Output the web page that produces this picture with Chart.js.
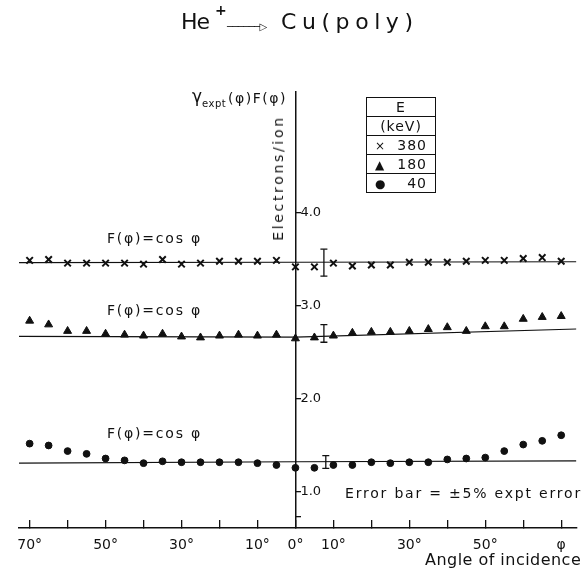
<!DOCTYPE html>
<html>
<head>
<meta charset="utf-8">
<script src="https://cdn.jsdelivr.net/npm/chart.js@4.4.1/dist/chart.umd.min.js"></script>
<style>
  html, body { margin: 0; padding: 0; background: #fff; }
  #wrap { position: relative; width: 583px; height: 571px; overflow: hidden; font-family: "DejaVu Sans", sans-serif; color: #111; }
  #chart { position: absolute; left: 0; top: 0; }
  .t { position: absolute; white-space: nowrap; line-height: 1; }
  #legendBox { position: absolute; left: 366px; top: 97px; width: 70px; border-collapse: collapse; font-size: 14px; letter-spacing: 1px; }
  #legendBox td { border: 1.3px solid #111; height: 18px; padding: 0 3px; text-align: center; }
  #legendBox .m { display: inline-block; width: 18px; text-align: left; font-size: 12px; }
  #legendBox .v { display: inline-block; width: 34px; text-align: right; }
</style>
</head>
<body>
<div id="wrap">
  <canvas id="chart" width="583" height="571"></canvas>

  <div class="t" data-w="29" style="left:181px; top:11px; font-size:22px">He</div>
  <div class="t" style="left:215px; top:3px; font-size:14px; font-weight:bold">+</div>
  <div class="t" style="left:227px; top:21.5px; font-size:10px; letter-spacing:-0.6px; font-weight:bold">──────▷</div>
  <div class="t" data-w="132" style="left:281px; top:11px; font-size:22px">Cu(poly)</div>

  <div class="t" style="left:192px; top:88px; font-size:17px">γ<span style="font-size:10px; position:relative; top:5px; letter-spacing:0.5px">expt</span></div>
  <div class="t" data-w="57" style="left:228px; top:91px; font-size:14px">(φ)F(φ)</div>

  <div class="t" id="elec" data-w="123" style="left:278px; top:178px; font-size:14px; transform:translate(-50%,-50%) rotate(-90deg)">Electrons/ion</div>

  <table id="legendBox">
    <tr><td>E</td></tr>
    <tr><td>(keV)</td></tr>
    <tr><td><span class="m">×</span><span class="v">380</span></td></tr>
    <tr><td><span class="m">▲</span><span class="v">180</span></td></tr>
    <tr><td><span class="m">●</span><span class="v">40</span></td></tr>
  </table>

  <div class="t" data-w="93" style="left:107px; top:231px; font-size:14px">F(φ)=cos φ</div>
  <div class="t" data-w="93" style="left:107px; top:303px; font-size:14px">F(φ)=cos φ</div>
  <div class="t" data-w="93" style="left:107px; top:425.5px; font-size:14px">F(φ)=cos φ</div>

  <div class="t" data-w="235" style="left:345px; top:485.5px; font-size:14px">Error bar = ±5% expt error</div>
  <div class="t" data-w="156" style="left:425px; top:551.5px; font-size:16px">Angle of incidence</div>
</div>

<script>
// angle of incidence (deg), negative = left side of the plot
const angles = [-70, -65, -60, -55, -50, -45, -40, -35, -30, -25, -20, -15, -10, -5, 0,
                5, 10, 15, 20, 25, 30, 35, 40, 45, 50, 55, 60, 65, 70];

// gamma_expt(phi) * F(phi), electrons/ion
const kev380 = [3.49, 3.50, 3.46, 3.46, 3.46, 3.46, 3.45, 3.50, 3.45, 3.46, 3.48, 3.48, 3.48, 3.49, 3.42,
                3.42, 3.46, 3.43, 3.44, 3.44, 3.47, 3.47, 3.47, 3.48, 3.49, 3.49, 3.51, 3.52, 3.48];
const kev180 = [2.84, 2.80, 2.73, 2.73, 2.70, 2.69, 2.68, 2.70, 2.67, 2.66, 2.68, 2.69, 2.68, 2.69, 2.65,
                2.66, 2.68, 2.71, 2.72, 2.72, 2.73, 2.75, 2.77, 2.73, 2.78, 2.78, 2.86, 2.88, 2.89];
const kev40 = [1.52, 1.50, 1.44, 1.41, 1.36, 1.34, 1.31, 1.33, 1.32, 1.32, 1.32, 1.32, 1.31, 1.29, 1.26,
               1.26, 1.29, 1.29, 1.32, 1.31, 1.32, 1.32, 1.35, 1.36, 1.37, 1.44, 1.51, 1.55, 1.61];

// F(phi) = cos phi reference lines
const refLineX = [-72.8, 0, 74];
const ref380 = [3.465, 3.47, 3.475];
const ref180 = [2.672, 2.665, 2.752];
const ref40 = [1.31, 1.325, 1.335];

// +-5% error bars
const errX = [7.5, 7.5, 8];
const errLow = [3.32, 2.61, 1.255];
const errHigh = [3.61, 2.80, 1.39];

const xTickValues = [-70, -60, -50, -40, -30, -20, -10, 0, 10, 20, 30, 40, 50, 60, 70];
const xTickLabels = ['70°', '', '50°', '', '30°', '', '10°', '0°', '10°', '', '30°', '', '50°', '', 'φ'];
const yTickValues = [0.73, 1, 2, 3, 4];
const yTickLabels = ['', '1.0', '2.0', '3.0', '4.0'];

const ink = '#111';

// stretch the hand-lettered labels to the widths they have in the figure
document.querySelectorAll('[data-w]').forEach(el => {
    const natural = el.offsetWidth;
    const n = el.textContent.length;
    el.style.letterSpacing = ((+el.dataset.w - natural) / (n - 1)) + 'px';
});

function pts(xs, ys) {
    return xs.map((x, i) => ({ x: x, y: ys[i] }));
}

function markerSet(ys, style, r) {
    return {
        data: pts(angles, ys),
        showLine: false,
        pointStyle: style,
        pointRadius: r,
        pointBackgroundColor: ink,
        pointBorderColor: ink,
        pointBorderWidth: style === 'crossRot' ? 2 : 1
    };
}

function refLine(ys) {
    return {
        data: pts(refLineX, ys),
        showLine: true,
        borderColor: ink,
        borderWidth: 1.2,
        pointRadius: 0
    };
}

function errorBar(i) {
    return {
        data: [{ x: errX[i], y: errLow[i] }, { x: errX[i], y: errHigh[i] }],
        showLine: true,
        borderColor: ink,
        borderWidth: 1.3,
        pointStyle: 'line',
        pointRadius: 3.5,
        pointBorderColor: ink,
        pointBorderWidth: 1.3
    };
}

// y tick labels sit to the right of the centred axis
const yLabelPlugin = {
    id: 'yLabels',
    afterDraw(chart) {
        const { ctx, scales: { x, y } } = chart;
        ctx.save();
        ctx.fillStyle = ink;
        ctx.font = '13px "DejaVu Sans"';
        ctx.textAlign = 'left';
        ctx.textBaseline = 'middle';
        yTickValues.forEach((v, i) => {
            if (yTickLabels[i]) ctx.fillText(yTickLabels[i], x.getPixelForValue(0) + 5, y.getPixelForValue(v));
        });
        ctx.restore();
    }
};

new Chart(document.getElementById('chart'), {
    type: 'scatter',
    data: {
        datasets: [
            refLine(ref380), refLine(ref180), refLine(ref40),
            errorBar(0), errorBar(1), errorBar(2),
            markerSet(kev380, 'crossRot', 4.6),
            markerSet(kev180, 'triangle', 4.6),
            markerSet(kev40, 'circle', 3.4)
        ]
    },
    options: {
        responsive: false,
        animation: false,
        devicePixelRatio: 1,
        layout: { padding: { left: 12, right: 3, top: 92, bottom: 0 } },
        plugins: { legend: { display: false }, tooltip: { enabled: false } },
        scales: {
            x: {
                type: 'linear',
                min: -72.8,
                max: 74,
                afterBuildTicks: s => { s.ticks = xTickValues.map(v => ({ value: v })); },
                afterFit: s => { s.height = 43; },
                ticks: {
                    autoSkip: false,
                    maxRotation: 0,
                    padding: 17,
                    color: ink,
                    font: { family: 'DejaVu Sans', size: 14 },
                    callback: v => xTickLabels[xTickValues.indexOf(v)]
                },
                grid: { drawOnChartArea: false, drawTicks: true, tickLength: -8, color: ink, lineWidth: 1.3 },
                border: { color: ink, width: 1.5 }
            },
            y: {
                type: 'linear',
                position: { x: 0 },
                min: 0.613,
                max: 5.3,
                afterBuildTicks: s => { s.ticks = yTickValues.map(v => ({ value: v })); },
                ticks: { display: false },
                grid: { drawOnChartArea: false, drawTicks: true, tickLength: -6, color: ink, lineWidth: 1.3 },
                border: { color: ink, width: 1.5 }
            }
        }
    },
    plugins: [yLabelPlugin]
});
</script>
</body>
</html>
